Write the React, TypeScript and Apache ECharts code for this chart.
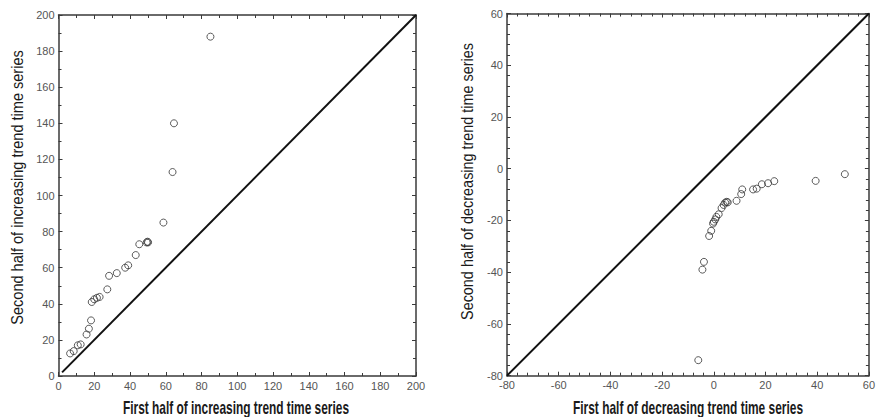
import React, { useEffect, useRef } from "react";
import * as echarts from "echarts";

// Increasing-trend series: first half (x) vs second half (y)
const incX = [6.5, 8.5, 10.8, 12.4, 15.7, 17, 18.2, 18.6, 20, 21.5, 23, 27.3, 28.3, 32.6, 37.3, 39, 43.2, 45.2, 49.3, 49.8, 50.1, 58.7, 63.8, 64.6, 85];
const incY = [12.5, 13.8, 17, 17.5, 23, 26.2, 30.8, 41, 42.5, 43.3, 43.8, 48, 55.5, 57, 60, 61.3, 67, 73, 74, 74.4, 74, 85, 113, 140, 188];

// Decreasing-trend series: first half (x) vs second half (y)
const decX = [-6, -4.4, -3.8, -1.8, -1, -0.3, 0, 0.6, 1, 1.9, 3, 3.8, 4.4, 5, 5.4, 8.8, 10.6, 11, 15.2, 16.6, 18.6, 21, 23.4, 39.4, 50.7];
const decY = [-74, -39, -36, -26, -24, -21.2, -20.5, -19.6, -18.6, -17.6, -15.2, -14, -13.1, -12.8, -13, -12.4, -9.8, -8, -8, -7.7, -6, -5.6, -4.8, -4.7, -2.1];

// Axis ranges and tick steps
const incRange = [0, 200];
const decRange = [-80, 60];
const tickStep = 20;
const incMinorSplit = 2;
const decMinorSplit = 5;

// Reference lines y = x
const incDiagonal = [[2, 2], [200, 200]];
const decDiagonal = [[-80, -80], [60, 60]];

// Axis titles
const incXTitle = "First half of increasing trend time series";
const incYTitle = "Second half of increasing trend time series";
const decXTitle = "First half of decreasing trend time series";
const decYTitle = "Second half of decreasing trend time series";

const LABEL_FONT = "'Liberation Sans', Arial, sans-serif";
const TITLE_FONT = "'Liberation Sans', Arial, sans-serif";
const AXIS_COLOR = "#3a3a3a";

function textWidth(text: string, size: number, family: string, weight: string): number {
  const ctx = document.createElement("canvas").getContext("2d");
  if (!ctx) return text.length * size * 0.5;
  ctx.font = `${weight} ${size}px ${family}`;
  return ctx.measureText(text).width;
}

function frameAxis(
  gridIndex: number,
  range: number[],
  minorSplit: number,
  position: string,
  showLabel: boolean
) {
  return {
    type: "value",
    gridIndex,
    position,
    min: range[0],
    max: range[1],
    interval: tickStep,
    axisLine: { show: true, onZero: false, lineStyle: { color: AXIS_COLOR, width: 1.5 } },
    axisTick: { show: true, inside: true, length: 4, lineStyle: { color: AXIS_COLOR, width: 1 } },
    minorTick: { show: true, splitNumber: minorSplit, length: 3, lineStyle: { color: AXIS_COLOR, width: 1 } },
    axisLabel: {
      show: showLabel,
      margin: 4,
      color: "#555",
      fontFamily: LABEL_FONT,
      fontSize: 11,
      hideOverlap: false,
    },
    splitLine: { show: false },
    minorSplitLine: { show: false },
  };
}

function titleText(
  text: string,
  cx: number,
  cy: number,
  length: number,
  size: number,
  vertical: boolean,
  weight: string
) {
  const w = textWidth(text, size, TITLE_FONT, weight);
  return {
    type: "text",
    x: cx,
    y: cy,
    rotation: vertical ? Math.PI / 2 : 0,
    scaleX: length / w,
    scaleY: 1,
    style: {
      text,
      fontFamily: TITLE_FONT,
      fontSize: size,
      fontWeight: weight,
      fill: "#1a1a1a",
      align: "center",
      verticalAlign: "middle",
    },
  };
}

export default function App() {
  const ref = useRef<HTMLDivElement>(null);

  useEffect(() => {
    if (!ref.current) return;
    const chart = echarts.init(ref.current, undefined, { renderer: "svg" });

    const circle = {
      symbol: "circle",
      symbolSize: 7,
      itemStyle: { color: "rgba(255,255,255,0)", borderColor: "#333", borderWidth: 1 },
    };

    chart.setOption({
      animation: false,
      backgroundColor: "#fff",
      grid: [
        { left: 58.5, top: 15, width: 357.5, height: 361, containLabel: false },
        { left: 507, top: 13.5, width: 367, height: 362.2, containLabel: false },
      ],
      xAxis: [
        frameAxis(0, incRange, incMinorSplit, "bottom", true),
        frameAxis(0, incRange, incMinorSplit, "top", false),
        frameAxis(1, decRange, decMinorSplit, "bottom", true),
        frameAxis(1, decRange, decMinorSplit, "top", false),
      ],
      yAxis: [
        frameAxis(0, incRange, incMinorSplit, "left", true),
        frameAxis(0, incRange, incMinorSplit, "right", false),
        frameAxis(1, decRange, decMinorSplit, "left", true),
        frameAxis(1, decRange, decMinorSplit, "right", false),
      ],
      series: [
        {
          type: "line",
          xAxisIndex: 0,
          yAxisIndex: 0,
          data: incDiagonal,
          showSymbol: false,
          symbol: "none",
          lineStyle: { color: "#111", width: 2 },
          silent: true,
        },
        {
          type: "scatter",
          xAxisIndex: 0,
          yAxisIndex: 0,
          data: incX.map((x, i) => [x, incY[i]]),
          ...circle,
        },
        {
          type: "line",
          xAxisIndex: 2,
          yAxisIndex: 2,
          data: decDiagonal,
          showSymbol: false,
          symbol: "none",
          lineStyle: { color: "#111", width: 2 },
          silent: true,
        },
        {
          type: "scatter",
          xAxisIndex: 2,
          yAxisIndex: 2,
          data: decX.map((x, i) => [x, decY[i]]),
          ...circle,
        },
      ],
      graphic: [
        titleText(incXTitle, 236, 408, 226, 18, false, "bold"),
        titleText(incYTitle, 17.5, 187.5, 275, 16, true, "normal"),
        titleText(decXTitle, 688, 408, 230, 18, false, "bold"),
        titleText(decYTitle, 467, 181.5, 277, 16, true, "normal"),
      ],
    });

    return () => chart.dispose();
  }, []);

  return (
    <div
      ref={ref}
      style={{ position: "fixed", left: 0, top: 0, width: 878, height: 417 }}
    />
  );
}
